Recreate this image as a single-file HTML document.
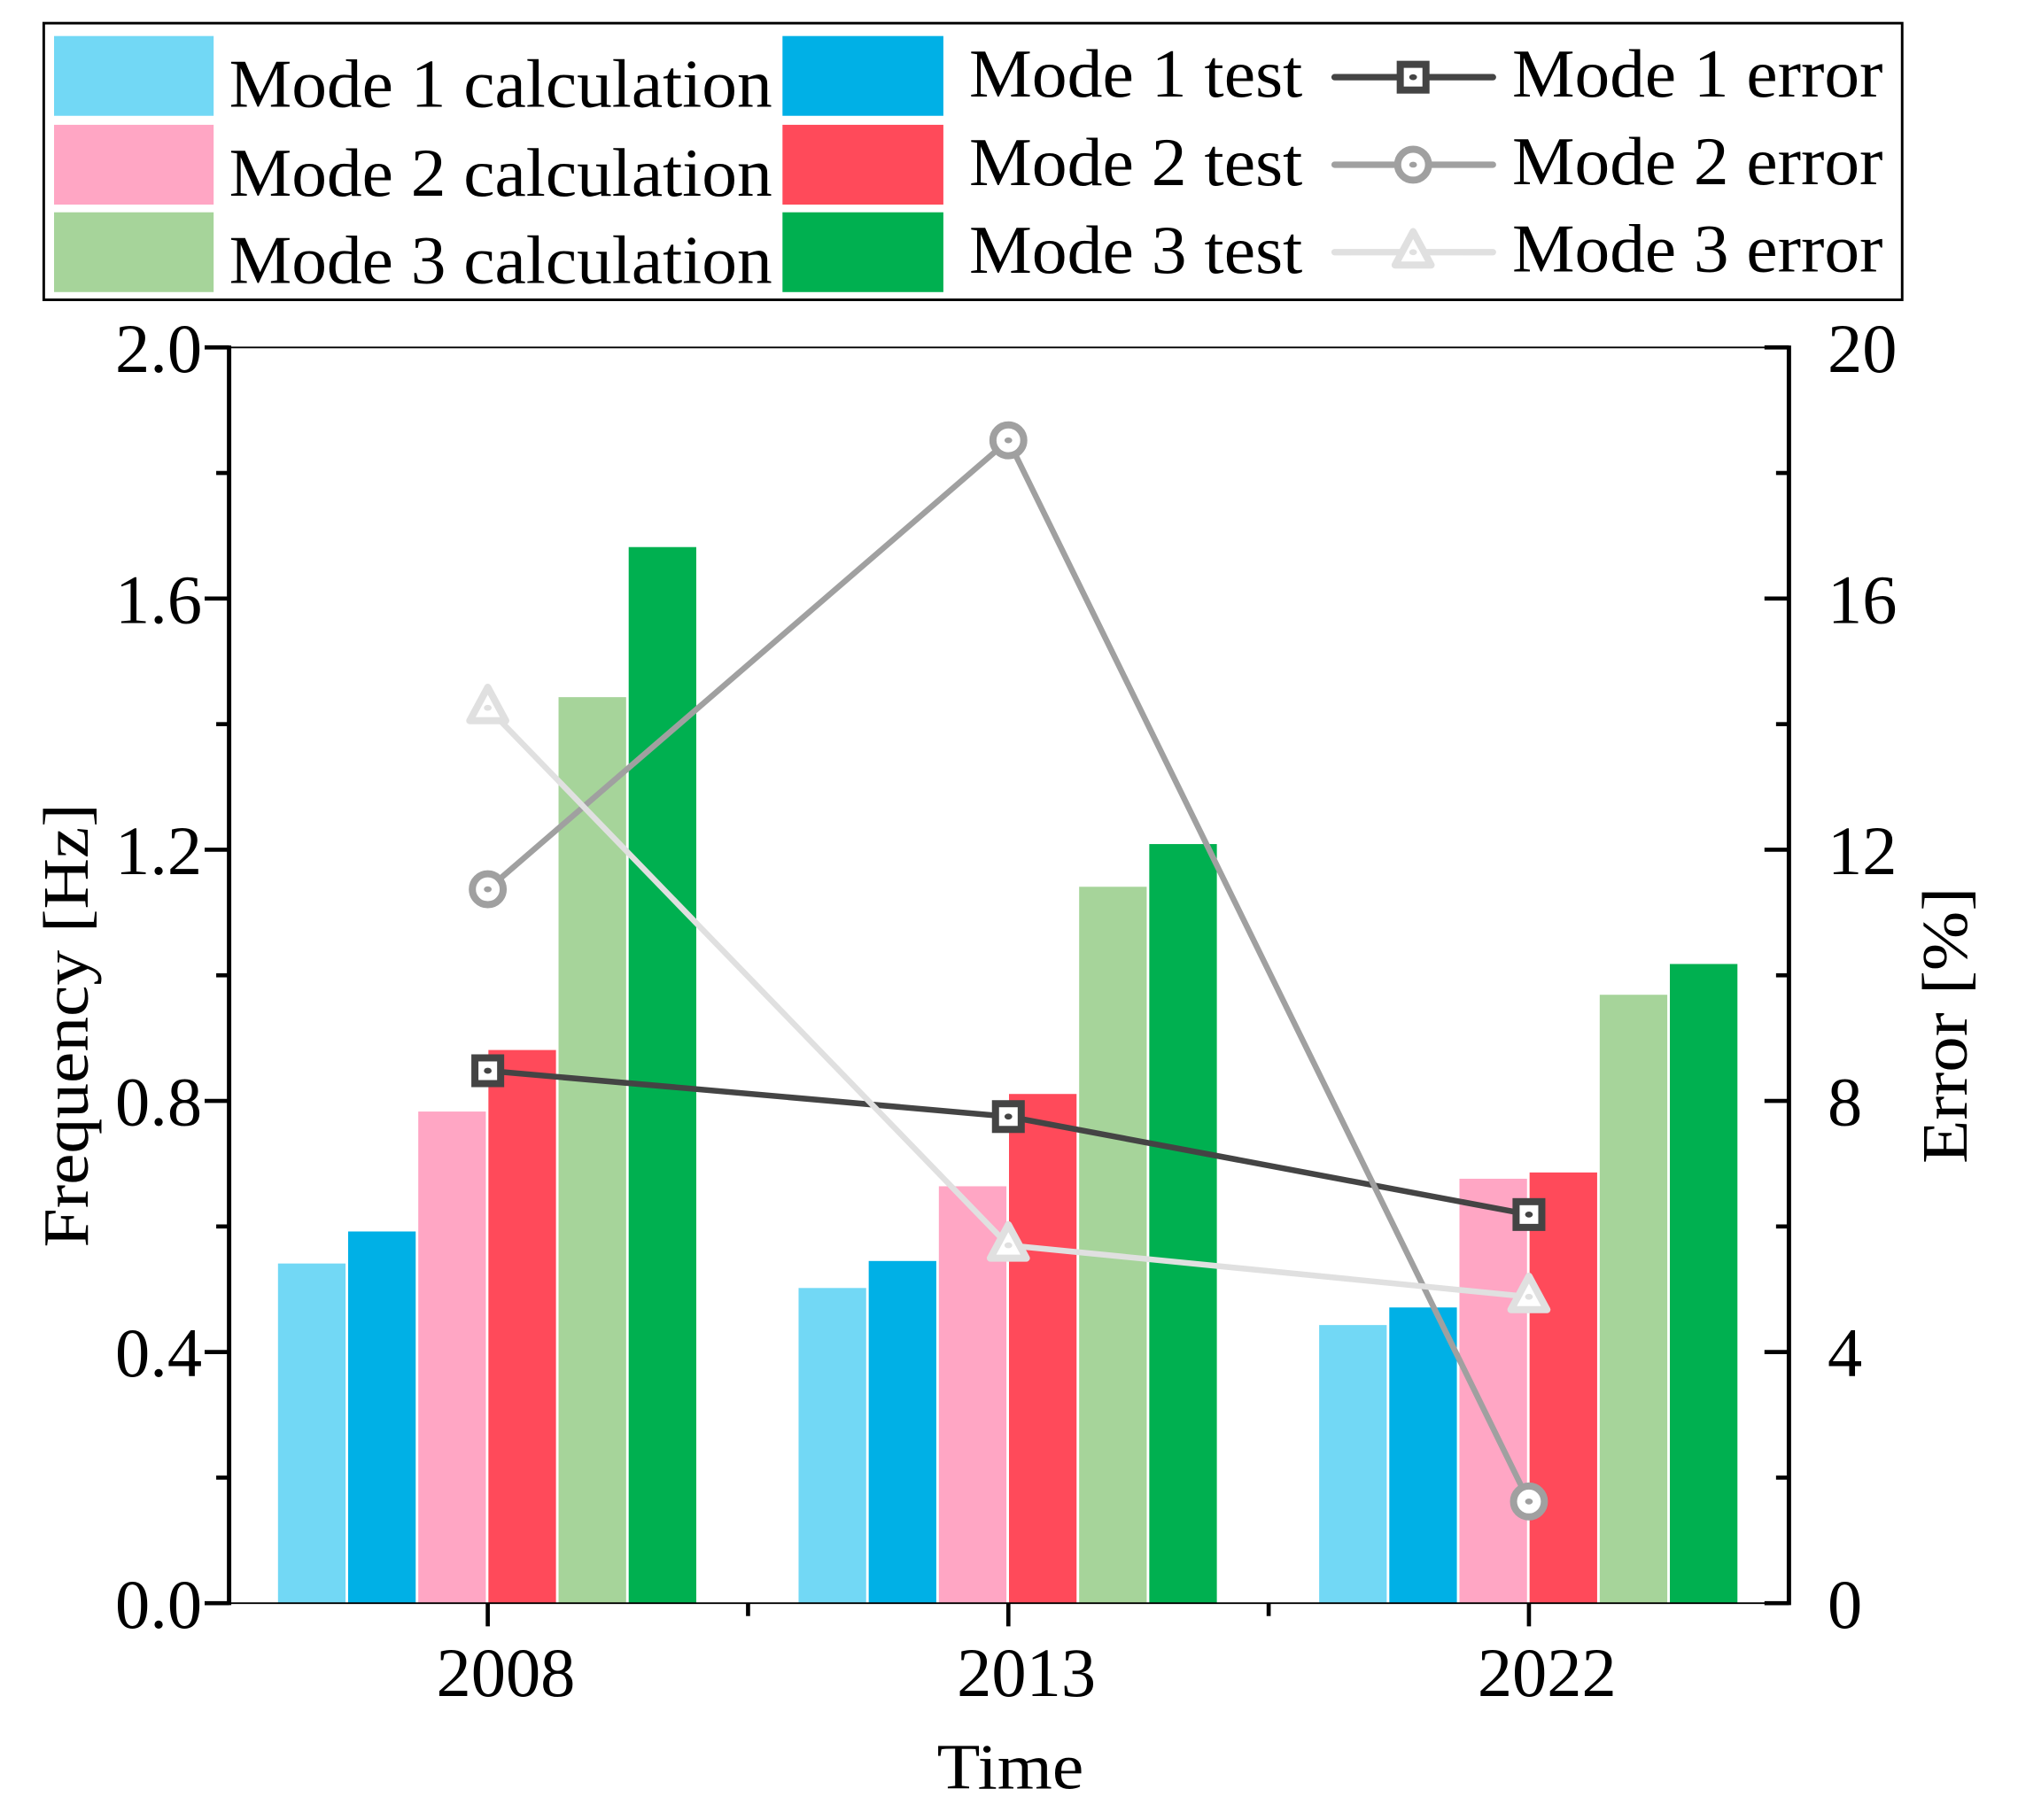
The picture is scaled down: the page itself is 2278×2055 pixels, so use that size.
<!DOCTYPE html>
<html><head><meta charset="utf-8"><style>html,body{margin:0;padding:0;background:#fff}svg{display:block}text{font-family:"Liberation Serif",serif;fill:#000}</style></head>
<body>
<svg id="chart" width="2278" height="2055" viewBox="0 0 1568 1414.5" preserveAspectRatio="none" xmlns="http://www.w3.org/2000/svg">
<g id="legend"></g>
<g id="bars"></g>
<g id="lines"></g>
<g id="axes"></g>
</svg>
<script>
const categories = ["2008", "2013", "2022"];
const seriesNames = ["Mode 1 calculation","Mode 1 test","Mode 2 calculation","Mode 2 test","Mode 3 calculation","Mode 3 test"];
const mode1Calc = [0.541, 0.502, 0.443];
const mode1Test = [0.592, 0.545, 0.471];
const mode2Calc = [0.783, 0.664, 0.676];
const mode2Test = [0.881, 0.811, 0.686];
const mode3Calc = [1.443, 1.141, 0.969];
const mode3Test = [1.682, 1.209, 1.018];
const mode1Error = [8.48, 7.75, 6.19];
const mode2Error = [11.37, 18.52, 1.62];
const mode3Error = [14.26, 5.70, 4.88];
const leftTicks = ["0.0","0.4","0.8","1.2","1.6","2.0"];
const rightTicks = ["0","4","8","12","16","20"];

const NS="http://www.w3.org/2000/svg";
const barColors=["#72d8f5","#00b0e6","#ffa6c4","#ff4a5a","#a6d49a","#00b050"];
const barSeries=[mode1Calc,mode1Test,mode2Calc,mode2Test,mode3Calc,mode3Test];
const L=178,R=1390,T=270,B=1246;
function yL(v){return B-(v/2.0)*(B-T);}
function yR(v){return B-(v/20)*(B-T);}
function xC(i){return 379+i*404.5;}
function el(tag,attrs,parent,txt){const e=document.createElementNS(NS,tag);for(const k in attrs)e.setAttribute(k,attrs[k]);if(txt!==undefined)e.textContent=txt;parent.appendChild(e);return e;}
const gb=document.getElementById('bars'),gl=document.getElementById('lines'),ga=document.getElementById('axes'),gg=document.getElementById('legend');

barSeries.forEach((s,si)=>{s.forEach((v,ci)=>{
  const x=xC(ci)-163+si*54.5;
  const r=el('rect',{x:x,y:yL(v),width:52.5,height:B-yL(v),fill:barColors[si]},gb);
  
  
});});

const lineSeries=[mode1Error,mode2Error,mode3Error];
const lineColors=["#444444","#a0a0a0","#e0e0e0"];
function marker(k,x,y,c,parent){
  let m;
  if(k===0) m=el('rect',{x:x-10,y:y-10,width:20,height:20,fill:'#fff',stroke:c,'stroke-width':5.5},parent);
  else if(k===1) m=el('circle',{cx:x,cy:y,r:12,fill:'#fff',stroke:c,'stroke-width':5.5},parent);
  else m=el('polygon',{points:`${x},${y-16} ${x+14},${y+10} ${x-14},${y+10}`,fill:'#fff',stroke:c,'stroke-width':5.5,'stroke-linejoin':'round'},parent);
  el('ellipse',{cx:x,cy:y,rx:3,ry:2.3,fill:c},parent);
  return m;
}
lineSeries.forEach((s,k)=>{
  const p=el('polyline',{points:s.map((v,i)=>xC(i)+','+yR(v)).join(' '),fill:'none',stroke:lineColors[k],'stroke-width':4.5,'stroke-linejoin':'round'},gl);
  
  
});
lineSeries.forEach((s,k)=>{s.forEach((v,i)=>{
  const m=marker(k,xC(i),yR(v),lineColors[k],gl);
  
  
});});

el('line',{x1:L,y1:T,x2:R,y2:T,stroke:'#000','stroke-width':1.3},ga);
el('line',{x1:L,y1:B,x2:R,y2:B,stroke:'#000','stroke-width':1.3},ga);
el('line',{x1:L,y1:T-1.5,x2:L,y2:B+1.5,stroke:'#000','stroke-width':3.4},ga);
el('line',{x1:R,y1:T-1.5,x2:R,y2:B+1.5,stroke:'#000','stroke-width':3.4},ga);
for(let i=0;i<=10;i++){
  const y=B-i*(B-T)/10, major=i%2===0, len=major?19:10;
  el('line',{x1:L-len,y1:y,x2:L,y2:y,stroke:'#000','stroke-width':3.2},ga);
  el('line',{x1:R-len,y1:y,x2:R,y2:y,stroke:'#000','stroke-width':3.2},ga);
}
leftTicks.forEach((t)=>{const y=yL(parseFloat(t));
  const e=el('text',{x:L-21,y:y+19,'font-size':54,'text-anchor':'end'},ga,t);
  });
rightTicks.forEach((t)=>{const y=yR(parseFloat(t));
  const e=el('text',{x:R+30,y:y+19,'font-size':54,'text-anchor':'start'},ga,t);
  });
categories.forEach((c,i)=>{
  el('line',{x1:xC(i),y1:B,x2:xC(i),y2:B+18,stroke:'#000','stroke-width':3.2},ga);
  const e=el('text',{x:xC(i)+14,y:B+72,'font-size':54,'text-anchor':'middle'},ga,c);
  
});
[(xC(0)+xC(1))/2,(xC(1)+xC(2))/2].forEach((x)=>{ el('line',{x1:x,y1:B,x2:x,y2:B+10,stroke:'#000','stroke-width':3.2},ga);});
let t=el('text',{x:785,y:1390,'font-size':50,'text-anchor':'middle',textLength:114,lengthAdjust:'spacingAndGlyphs'},ga,'Time');

t=el('text',{x:0,y:0,'font-size':50,'text-anchor':'middle',textLength:345,lengthAdjust:'spacingAndGlyphs',transform:'translate(68,797) rotate(-90)'},ga,'Frequency [Hz]');

t=el('text',{x:0,y:0,'font-size':50,'text-anchor':'middle',textLength:215,lengthAdjust:'spacingAndGlyphs',transform:'translate(1528,797) rotate(-90)'},ga,'Error [%]');


el('rect',{x:34,y:18,width:1444,height:215,fill:'#fff',stroke:'#000','stroke-width':2},gg);
const rowsY=[28,97,165];
[0,2,4].forEach((si,r)=>{
  const s=el('rect',{x:42,y:rowsY[r],width:124,height:62,fill:barColors[si]},gg);
  
  const e=el('text',{x:178,y:rowsY[r]+55,'font-size':53,textLength:422,lengthAdjust:'spacingAndGlyphs'},gg,seriesNames[si]);
  
});
[1,3,5].forEach((si,r)=>{
  const s=el('rect',{x:608,y:rowsY[r],width:125,height:62,fill:barColors[si]},gg);
  
  const e=el('text',{x:753,y:rowsY[r]+47,'font-size':53,textLength:259,lengthAdjust:'spacingAndGlyphs'},gg,seriesNames[si]);
  
});
[60,128,196].forEach((y,k)=>{
  el('line',{x1:1037,y1:y,x2:1160,y2:y,stroke:lineColors[k],'stroke-width':5,'stroke-linecap':'round'},gg);
  const m=marker(k,1098,y,lineColors[k],gg);
  
  const e=el('text',{x:1175,y:y+15,'font-size':53,textLength:288,lengthAdjust:'spacingAndGlyphs'},gg,'Mode '+(k+1)+' error');
  
});
</script>
</body></html>
